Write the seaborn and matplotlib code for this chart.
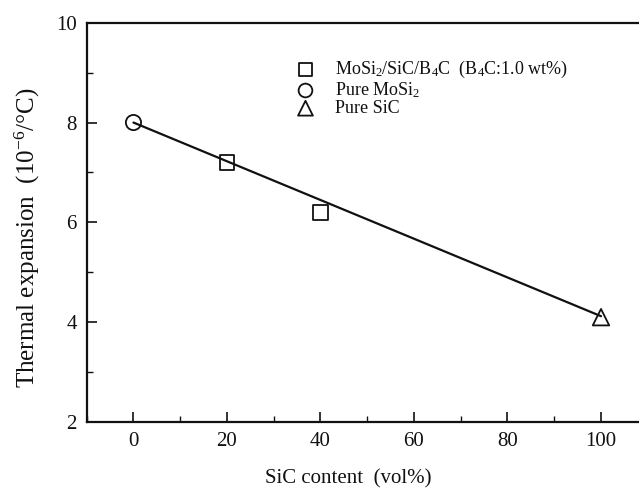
import matplotlib
matplotlib.use("Agg")
import matplotlib.pyplot as plt
import seaborn as sns
from matplotlib.ticker import MultipleLocator

sns.set_theme(style="ticks")
plt.rcParams['font.family'] = ['Liberation Serif', 'DejaVu Serif']
plt.rcParams['mathtext.fontset'] = 'custom'
plt.rcParams['mathtext.rm'] = 'Liberation Serif'
plt.rcParams['mathtext.it'] = 'Liberation Serif:italic'

# Data
composite_x = [20, 40]
composite_y = [7.2, 6.2]
mosi2_x = [0]
mosi2_y = [8.0]
sic_x = [100]
sic_y = [4.1]
fit_x = [0, 100]
fit_y = [8.0, 4.12]

labels = ["MoSi$_2$/SiC/B$_4$C  (B$_4$C:1.0 wt%)", "Pure MoSi$_2$", "Pure SiC"]

fig = plt.figure(figsize=(6.39, 4.97), dpi=100)
ax = fig.add_axes([0.1357, 0.1509, 0.878, 0.8034])

sns.lineplot(x=fit_x, y=fit_y, ax=ax, color="#111111", linewidth=1.6, legend=False)

common = dict(facecolors="none", edgecolor="#111111", linewidth=1.3, zorder=3)
sns.scatterplot(x=composite_x, y=composite_y, marker="s", s=110, ax=ax, label=labels[0], **common)
sns.scatterplot(x=mosi2_x, y=mosi2_y, marker="o", s=120, ax=ax, label=labels[1], **common)
sns.scatterplot(x=sic_x, y=sic_y, marker="^", s=140, ax=ax, label=labels[2], **common)

ax.set_xlim(-10, 110)
ax.set_ylim(2, 10)
ax.xaxis.set_major_locator(MultipleLocator(20))
ax.xaxis.set_minor_locator(MultipleLocator(10))
ax.yaxis.set_major_locator(MultipleLocator(2))
ax.yaxis.set_minor_locator(MultipleLocator(1))
ax.tick_params(which="major", direction="in", length=7, width=1.2, labelsize=15,
               colors="#111111", pad=7)
ax.tick_params(which="minor", direction="in", length=4, width=1.0, colors="#111111")
ax.tick_params(axis="x", which="both", top=False)
ax.tick_params(axis="y", which="both", right=False)

for side in ["left", "bottom", "top", "right"]:
    ax.spines[side].set_linewidth(1.6)
    ax.spines[side].set_color("#111111")

ax.set_xlabel("SiC content  (vol%)", fontsize=15, color="#111111")
ax.set_ylabel("Thermal expansion  (10$^{-6}$/$\\degree$C)", fontsize=18, color="#111111")
ax.xaxis.set_label_coords(0.4655, -0.118)
ax.yaxis.set_label_coords(-0.0796, 0.461)

leg = ax.legend(loc="upper left", bbox_to_anchor=(0.332, 0.945), frameon=False,
                fontsize=13, handletextpad=0.66, labelspacing=0.0, borderpad=0.3,
                markerscale=0.9, handlelength=2.0)
for t in leg.get_texts():
    t.set_color("#111111")

fig.savefig("out.png", dpi=100)
